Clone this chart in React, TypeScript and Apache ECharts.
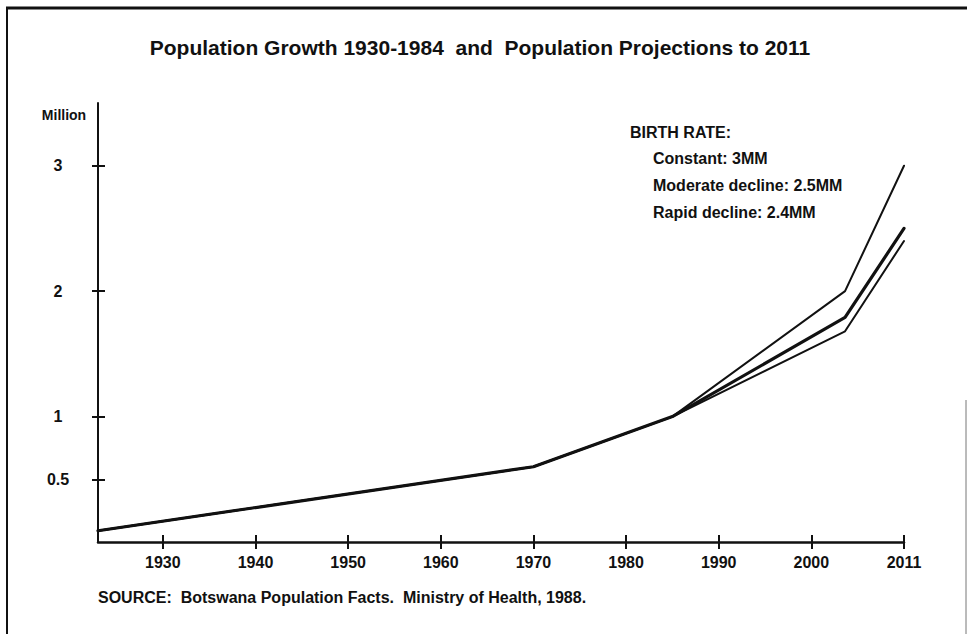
import React, { useEffect, useRef } from "react";
import * as echarts from "echarts";

// ---- data ----
const BASE_YEARS = [1923, 1970, 1985];
const BASE_VALUES = [0.09, 0.6, 1.0];
const PROJ_YEARS = [2004, 2011];
const CONSTANT_VALUES = [2.0, 3.0];
const MODERATE_VALUES = [1.79, 2.5];
const RAPID_VALUES = [1.68, 2.4];

const YEAR_TICKS = [1930, 1940, 1950, 1960, 1970, 1980, 1990, 2000, 2011];
const VALUE_TICKS = [0.5, 1, 2, 3];

const TITLE = "Population Growth 1930-1984  and  Population Projections to 2011";
const LEGEND_HEAD = "BIRTH RATE:";
const LEGEND_ITEMS = ["Constant: 3MM", "Moderate decline: 2.5MM", "Rapid decline: 2.4MM"];
const SOURCE = "SOURCE:  Botswana Population Facts.  Ministry of Health, 1988.";
const Y_UNIT = "Million";

// The original drawing puts 2000-2011 at the same width as one decade.
const toAxis = (y: number) => (y <= 2000 ? y : 2000 + ((y - 2000) * 10) / 11);
const fromAxis = (v: number) => (v <= 2000 ? v : 2000 + ((v - 2000) * 11) / 10);

const FONT = '"Liberation Sans", Arial, Helvetica, sans-serif';
const INK = "#111";

function buildSeries(name: string, proj: number[], width: number) {
  const data: number[][] = [];
  BASE_YEARS.forEach((y, i) => data.push([toAxis(y), BASE_VALUES[i]]));
  PROJ_YEARS.forEach((y, i) => data.push([toAxis(y), proj[i]]));
  return {
    name,
    type: "line",
    data,
    symbol: "none",
    xAxisIndex: 0,
    yAxisIndex: 0,
    lineStyle: { color: INK, width, join: "round", cap: "round" },
    z: width > 2.5 ? 4 : 3,
  };
}

export default function App() {
  const ref = useRef<HTMLDivElement>(null);
  useEffect(() => {
    if (!ref.current) return;
    const chart = echarts.init(ref.current, null, { renderer: "svg" });
    const xMin = toAxis(BASE_YEARS[0]);
    const xMax = toAxis(YEAR_TICKS[YEAR_TICKS.length - 1]);
    const xTickVals = YEAR_TICKS.map(toAxis);
    const commonX = { type: "value", min: xMin, max: xMax, gridIndex: 0, position: "bottom" };
    const commonY = { type: "value", min: 0, max: 3.5, gridIndex: 0, position: "left" };
    const legendTexts = LEGEND_ITEMS.map((t, i) => ({
      type: "text",
      left: 653,
      top: 150 + i * 27,
      style: { text: t, font: `bold 16px ${FONT}`, fill: INK },
    }));
    chart.setOption({
      animation: false,
      backgroundColor: "#fff",
      grid: { left: 98, right: 63, top: 103, bottom: 92, containLabel: false },
      xAxis: [
        {
          ...commonX,
          axisLine: { show: true, lineStyle: { color: INK, width: 2.5 } },
          axisTick: { show: true, inside: false, length: 7, lineStyle: { color: INK, width: 2 }, customValues: xTickVals },
          axisLabel: {
            show: true,
            customValues: xTickVals,
            margin: 12,
            color: INK,
            fontFamily: FONT,
            fontWeight: "bold",
            fontSize: 16,
            formatter: (v: number) => String(Math.round(fromAxis(v))),
          },
          splitLine: { show: false },
        },
        {
          ...commonX,
          axisLine: { show: false },
          axisTick: { show: true, inside: true, length: 7, lineStyle: { color: INK, width: 2 }, customValues: xTickVals },
          axisLabel: { show: false },
          splitLine: { show: false },
        },
      ],
      yAxis: [
        {
          ...commonY,
          axisLine: { show: true, lineStyle: { color: INK, width: 2 } },
          axisTick: { show: true, inside: false, length: 6, lineStyle: { color: INK, width: 2 }, customValues: VALUE_TICKS },
          axisLabel: {
            show: true,
            customValues: VALUE_TICKS,
            align: "center",
            margin: 40,
            color: INK,
            fontFamily: FONT,
            fontWeight: "bold",
            fontSize: 16,
          },
          splitLine: { show: false },
        },
        {
          ...commonY,
          axisLine: { show: false },
          axisTick: { show: true, inside: true, length: 7, lineStyle: { color: INK, width: 2 }, customValues: VALUE_TICKS },
          axisLabel: { show: false },
          splitLine: { show: false },
        },
      ],
      series: [
        buildSeries("Constant", CONSTANT_VALUES, 2),
        buildSeries("Rapid decline", RAPID_VALUES, 2),
        buildSeries("Moderate decline", MODERATE_VALUES, 3.2),
      ],
      graphic: [
        { type: "line", shape: { x1: 6, y1: 8, x2: 967, y2: 8 }, style: { stroke: INK, lineWidth: 3 } },
        { type: "line", shape: { x1: 7, y1: 7, x2: 7, y2: 634 }, style: { stroke: INK, lineWidth: 2 } },
        { type: "line", shape: { x1: 966, y1: 400, x2: 966, y2: 634 }, style: { stroke: "#777", lineWidth: 1 } },
        {
          type: "text",
          x: 480,
          y: 47,
          style: { text: TITLE, font: `bold 21px ${FONT}`, fill: INK, align: "center", verticalAlign: "middle" },
        },
        {
          type: "text",
          x: 64,
          y: 115,
          style: { text: Y_UNIT, font: `bold 14px ${FONT}`, fill: INK, align: "center", verticalAlign: "middle" },
        },
        {
          type: "text",
          left: 630,
          top: 124,
          style: { text: LEGEND_HEAD, font: `bold 16px ${FONT}`, fill: INK },
        },
        ...legendTexts,
        {
          type: "text",
          left: 98,
          top: 589,
          style: { text: SOURCE, font: `bold 16px ${FONT}`, fill: INK },
        },
      ],
    });
    return () => chart.dispose();
  }, []);
  return (
    <div
      ref={ref}
      style={{ position: "fixed", left: 0, top: 0, width: 967, height: 634, background: "#fff" }}
    />
  );
}
